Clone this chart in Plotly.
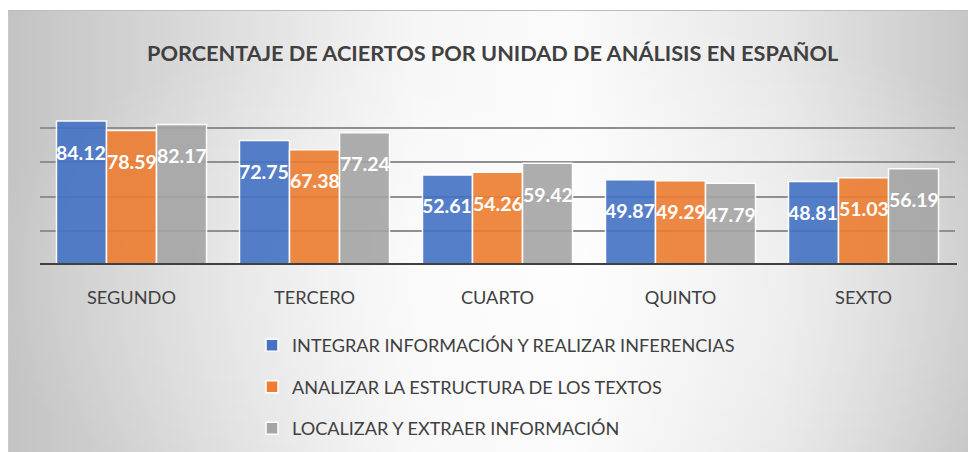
import base64
import plotly.graph_objects as go

categories = ["SEGUNDO", "TERCERO", "CUARTO", "QUINTO", "SEXTO"]
series_names = [
    "INTEGRAR INFORMACIÓN Y REALIZAR INFERENCIAS",
    "ANALIZAR LA ESTRUCTURA DE LOS TEXTOS",
    "LOCALIZAR Y EXTRAER INFORMACIÓN",
]
integrar = [84.12, 72.75, 52.61, 49.87, 48.81]
analizar = [78.59, 67.38, 54.26, 49.29, 51.03]
localizar = [82.17, 77.24, 59.42, 47.79, 56.19]
series_values = [integrar, analizar, localizar]
colors = ["#4472C4", "#ED7D31", "#A5A5A5"]
title_text = "PORCENTAJE DE ACIERTOS POR UNIDAD DE ANÁLISIS EN ESPAÑOL"

# the page body has an 8px margin, so the figure is laid out 8px smaller
W, H = 968, 444
ML, MR, MT, MB = 32, 21, 103, 187
PW = W - ML - MR
PH = H - MT - MB
BARGAP = 0.18

FONT = "Lato"

svg = f"""<svg xmlns='http://www.w3.org/2000/svg' width='968' height='442' viewBox='0 0 968 442' preserveAspectRatio='none'>
<defs>
<linearGradient id='g' x1='0' y1='0' x2='1' y2='0'>
<stop offset='0' stop-color='#c3c3c3'/>
<stop offset='0.18' stop-color='#d8d8d8'/>
<stop offset='0.42' stop-color='#f6f6f6'/>
<stop offset='0.58' stop-color='#fbfbfb'/>
<stop offset='0.8' stop-color='#e6e6e6'/>
<stop offset='1' stop-color='#c6c6c6'/>
</linearGradient>
<radialGradient id='r' cx='0.55' cy='0.6' r='0.6'>
<stop offset='0' stop-color='#ffffff' stop-opacity='0.6'/>
<stop offset='1' stop-color='#ffffff' stop-opacity='0'/>
</radialGradient>
</defs>
<rect x='0' y='0' width='968' height='442' fill='url(#g)'/>
<rect x='0' y='0' width='968' height='442' fill='url(#r)'/>
<line x1='0' y1='0.5' x2='968' y2='0.5' stroke='#bdbdbd' stroke-width='1'/>
<line x1='0.5' y1='0' x2='0.5' y2='442' stroke='#c8c8c8' stroke-width='1'/>
</svg>"""
src = "data:image/svg+xml;base64," + base64.b64encode(svg.encode()).decode()

fig = go.Figure()
for name, vals, col in zip(series_names, series_values, colors):
    fig.add_trace(go.Bar(
        x=categories, y=vals, name=name, legendgroup=name,
        marker=dict(color=col, opacity=0.9, line=dict(color="white", width=1.5)),
        hoverinfo="skip",
    ))

# data labels
bar_px = PW / len(categories) * (1 - BARGAP) / len(series_values)
annotations = []
for i, vals in enumerate(series_values):
    for c, v in zip(categories, vals):
        annotations.append(dict(
            x=c, y=v, xref="x", yref="y", text=f"{v:.2f}", showarrow=False,
            xshift=(i - 1) * bar_px, yshift=-31, yanchor="middle",
            font=dict(family=FONT, size=19.5, color="white", weight="bold"),
        ))
annotations.append(dict(
    x=(484 - ML) / PW, y=(H - MB - 45) / PH, xref="paper", yref="paper",
    text=f"<b>{title_text}</b>", showarrow=False, xanchor="center", yanchor="middle",
    font=dict(family=FONT, size=21.7, color="#404040"),
))

fig.update_layout(
    width=W, height=H,
    margin=dict(l=ML, r=MR, t=MT, b=MB, pad=0, autoexpand=False),
    paper_bgcolor="white", plot_bgcolor="rgba(0,0,0,0)",
    barmode="group", bargap=BARGAP, bargroupgap=0,
    showlegend=True,
    legend=dict(
        x=(244 - ML) / PW, y=(H - MB - 319) / PH, xanchor="left", yanchor="top",
        orientation="v", bgcolor="rgba(0,0,0,0)",
        font=dict(family=FONT, size=18.1, color="#404040"),
        tracegroupgap=15, itemwidth=30,
    ),
    xaxis=dict(showgrid=False, showline=False, ticks="", zeroline=False,
               tickfont=dict(family=FONT, size=18.2, color="#404040"), ticklabelstandoff=20),
    yaxis=dict(range=[0, 90], dtick=20, tick0=0, showticklabels=False, ticks="",
               showgrid=True, gridcolor="#8f8f8f", gridwidth=2, zeroline=False, showline=False),
    yaxis2=dict(range=[0, 90], overlaying="y", tickvals=[20], showticklabels=False, ticks="",
                showgrid=True, gridcolor="#3a3a3a", gridwidth=2, zeroline=False, showline=False),
    images=[dict(source=src, xref="paper", yref="paper",
                 x=(0 - ML) / PW, y=(H - MB - 2) / PH,
                 sizex=968 / PW, sizey=442 / PH, sizing="stretch",
                 xanchor="left", yanchor="top", layer="below")],
    shapes=[dict(type="line", xref="paper", yref="y", x0=0, x1=(949 - ML) / PW, y0=0, y1=0,
                 line=dict(color="#404040", width=4), layer="above")],
    annotations=annotations,
)

fig.write_html("out.html")
